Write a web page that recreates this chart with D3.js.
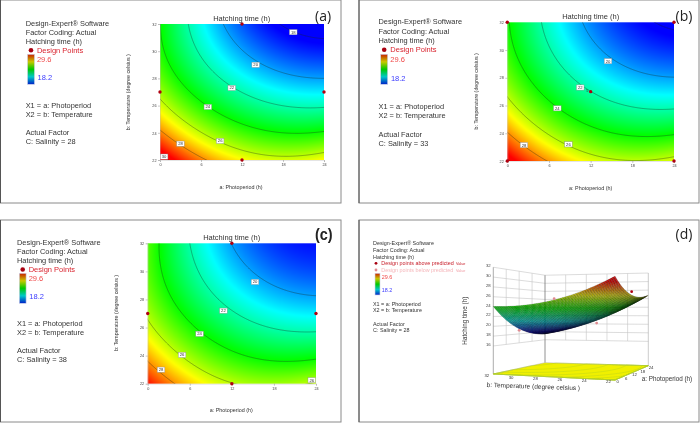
<!DOCTYPE html>
<html><head><meta charset="utf-8">
<script src="https://cdn.jsdelivr.net/npm/d3@7"></script>
<style>
html,body{margin:0;padding:0;background:#fff}
svg{display:block;filter:blur(0.3px)}
text{font-family:"Liberation Sans",Arial,sans-serif}
</style></head><body>
<svg id="chart" width="700" height="423"></svg>
<script>
// ---- data ----
const photoperiodTicks = [0, 6, 12, 18, 24];
const temperatureTicks = [22, 24, 26, 28, 30, 32];
const heightTicks = [16, 18, 20, 22, 24, 26, 28, 30, 32];
const gridPhotoperiod = [0, 4, 8, 12, 16, 20, 24];
const gridTemperature = [22, 24, 26, 28, 30, 32];
const contourLevels = [18, 20, 22, 24, 26, 28, 30];

// rows = temperature, columns = photoperiod; hatching time (h)
const surfaceA = [
  [30.6, 28.9, 27.6, 26.8, 26.45, 26.4, 26.75],
  [28.1, 26.9, 25.5, 24.6, 24.05, 23.9, 24.15],
  [26.35, 25.0, 23.7, 22.9, 22.2, 21.85, 21.95],
  [25.1, 23.4, 22.15, 21.3, 20.6, 20.1, 20.0],
  [24.3, 22.5, 21.1, 20.0, 19.2, 18.7, 18.5],
  [24.0, 22.2, 20.4, 19.2, 18.3, 17.7, 17.5]];
const surfaceB = [
  [30.2, 28.5, 27.3, 26.6, 26.1, 26.05, 26.4],
  [28.0, 26.7, 25.4, 24.5, 23.95, 23.8, 23.95],
  [26.4, 24.9, 23.65, 22.7, 22.0, 21.6, 21.8],
  [25.3, 23.6, 22.4, 21.45, 20.7, 20.15, 20.0],
  [24.4, 22.8, 21.4, 20.4, 19.6, 19.0, 18.8],
  [24.2, 22.3, 20.9, 19.7, 18.8, 18.0, 17.8]];
const surfaceC = [
  [29.4, 28.05, 26.95, 26.0, 25.5, 25.7, 26.2],
  [27.6, 26.2, 25.2, 24.3, 23.75, 23.6, 23.8],
  [26.25, 24.95, 23.75, 22.8, 22.2, 21.75, 21.8],
  [25.4, 23.8, 22.45, 21.5, 20.8, 20.25, 20.05],
  [24.95, 23.2, 21.7, 20.65, 19.85, 19.35, 19.15],
  [24.8, 22.9, 21.2, 20.0, 19.1, 18.5, 18.35]];

const labelsA = [[19.5,31.4,"18"],[14,29,"20"],[10.5,27.3,"22"],[7,25.9,"24"],[8.8,23.4,"26"],[3,23.2,"28"],[0.6,22.25,"30"]];
const labelsB = [[14.5,29.2,"20"],[10.5,27.3,"22"],[7.2,25.8,"24"],[8.8,23.2,"26"],[2.4,23.15,"28"]];
const labelsC = [[15.3,29.25,"20"],[10.8,27.2,"22"],[7.4,25.55,"24"],[4.9,24.05,"26"],[1.9,23,"28"],[23.4,22.25,"26"]];

const pointsA = [[12,32],[0,27],[24,27],[12,22]];
const pointsB = [[0,32],[24,32],[12,27],[0,22],[24,22]];
const pointsC = [[12,32],[0,27],[24,27],[12,22]];
// photoperiod, temperature, height, above prediction?
const points3D = [[12,22,27.6,true],[0,27,25.9,false],[24,27,20.2,false],[12,32,18.8,false]];

const colorStops = [18.2, 21.05, 23.9, 26.75, 29.6];
const colorRange = ["#0000ff", "#00ffff", "#00ff00", "#ffff00", "#ff0000"];
const legendRange = ["#0020c8", "#00c8c8", "#00c800", "#c8c800", "#c82000"];

// ---- helpers ----
const svg = d3.select("#chart");
const defs = svg.append("defs");
const color = d3.scaleLinear().domain(colorStops).range(colorRange).clamp(true);
const TEXT = "#333";

// smooth response surface through the values (least squares, biquadratic)
function sampler(grid) {
  const basis = (p, T) => {
    const a = (p - 12) / 12, b = (T - 27) / 5;
    return [1, a, b, a * a, a * b, b * b, a * a * b, a * b * b, a * a * b * b];
  };
  const m = 9, A = d3.range(m).map(() => new Array(m + 1).fill(0));
  grid.forEach((row, j) => row.forEach((z, i) => {
    const v = basis(gridPhotoperiod[i], gridTemperature[j]);
    for (let r = 0; r < m; r++) { for (let c = 0; c < m; c++) A[r][c] += v[r] * v[c]; A[r][m] += v[r] * z; }
  }));
  for (let c = 0; c < m; c++) {
    let piv = c;
    for (let r = c + 1; r < m; r++) if (Math.abs(A[r][c]) > Math.abs(A[piv][c])) piv = r;
    [A[c], A[piv]] = [A[piv], A[c]];
    for (let r = 0; r < m; r++) if (r !== c) {
      const k = A[r][c] / A[c][c];
      for (let q = c; q <= m; q++) A[r][q] -= k * A[c][q];
    }
  }
  const w = A.map((row, i) => row[m] / row[i]);
  return (p, T) => d3.sum(basis(p, T), (v, i) => v * w[i]);
}

function textLines(g, lines, opts) {
  lines.forEach(l => g.append("text").attr("x", l[0]).attr("y", l[1])
    .attr("font-size", l[3] || opts.size).attr("fill", l[4] || TEXT).attr("dominant-baseline", "central").text(l[2]));
}
function legendBar(g, id, x, y, w, h) {
  const lg = defs.append("linearGradient").attr("id", id).attr("x1", 0).attr("x2", 0).attr("y1", 1).attr("y2", 0);
  colorStops.forEach((s, i) => lg.append("stop").attr("offset", i / (colorStops.length - 1)).attr("stop-color", legendRange[i]));
  g.append("rect").attr("x", x).attr("y", y).attr("width", w).attr("height", h).attr("fill", `url(#${id})`).attr("stroke", "#cfd3e8").attr("stroke-width", 0.6);
}
function frame(x0, y0, x1, y1) {
  svg.append("rect").attr("x", x0).attr("y", y0).attr("width", x1 - x0).attr("height", y1 - y0)
    .attr("fill", "none").attr("stroke", "#8a8a8a").attr("stroke-width", 1);
  svg.append("line").attr("x1", x0).attr("x2", x0).attr("y1", y0).attr("y2", y1).attr("stroke", "#555").attr("stroke-width", 1);
}

function contourPanel(o) {
  const g = svg.append("g");
  const x = d3.scaleLinear().domain([0, 24]).range([o.x0, o.x1]);
  const y = d3.scaleLinear().domain([22, 32]).range([o.y1, o.y0]);
  const f = sampler(o.grid);
  const W = Math.round(o.x1 - o.x0) * 2, H = Math.round(o.y1 - o.y0) * 2;
  // colour field
  const cv = document.createElement("canvas"); cv.width = W; cv.height = H;
  const ctx = cv.getContext("2d"), img = ctx.createImageData(W, H);
  for (let j = 0; j < H; j++) for (let i = 0; i < W; i++) {
    const p = (i + .5) / W * 24, T = 32 - (j + .5) / H * 10;
    const c = d3.rgb(color(f(p, T))), k = (j * W + i) * 4;
    img.data[k] = c.r; img.data[k + 1] = c.g; img.data[k + 2] = c.b; img.data[k + 3] = 255;
  }
  ctx.putImageData(img, 0, 0);
  g.append("image").attr("x", o.x0).attr("y", o.y0).attr("width", o.x1 - o.x0).attr("height", o.y1 - o.y0)
    .attr("preserveAspectRatio", "none").attr("href", cv.toDataURL());
  // contours, computed slightly past the plot so the boundary rings are clipped away
  const nx = 200, ny = 150, pad = 1.5;
  const px = i => -pad + (i / (nx - 1)) * (24 + 2 * pad), py = j => 22 - pad * .5 + (j / (ny - 1)) * (10 + pad);
  const values = new Float64Array(nx * ny);
  for (let j = 0; j < ny; j++) for (let i = 0; i < nx; i++) values[j * nx + i] = f(px(i), py(j));
  const clipId = "clip" + o.id;
  defs.append("clipPath").attr("id", clipId).append("rect").attr("x", o.x0).attr("y", o.y0).attr("width", o.x1 - o.x0).attr("height", o.y1 - o.y0);
  const path = d3.geoPath(d3.geoTransform({ point(a, b) { this.stream.point(x(px(a - .5)), y(py(b - .5))); } }));
  g.append("g").attr("clip-path", `url(#${clipId})`).selectAll("path")
    .data(d3.contours().size([nx, ny]).thresholds(contourLevels)(Array.from(values)))
    .join("path").attr("d", path).attr("fill", "none").attr("stroke", "#1c2a20").attr("stroke-width", 0.36);
  // axes
  const ax = g.append("g").attr("transform", `translate(0,${o.y1})`).call(d3.axisBottom(x).tickValues(photoperiodTicks).tickSize(2).tickPadding(1.5));
  const ay = g.append("g").attr("transform", `translate(${o.x0},0)`).call(d3.axisLeft(y).tickValues(temperatureTicks).tickSize(2).tickPadding(1.5));
  [ax, ay].forEach(a => {
    a.selectAll("text").attr("font-size", 3.8).attr("fill", "#444").attr("font-family", '"Liberation Sans",Arial,sans-serif');
    a.selectAll("line").attr("stroke", "#777").attr("stroke-width", 0.4);
    a.select(".domain").attr("stroke", "#bbb").attr("stroke-width", 0.4);
  });
  // contour labels
  const lab = g.selectAll(".cl").data(o.labels).join("g").attr("transform", d => `translate(${x(d[0])},${y(d[1])})`);
  lab.append("rect").attr("x", -3.8).attr("y", -2.6).attr("width", 7.6).attr("height", 5.2).attr("fill", "#fff").attr("stroke", "#8c8c8c").attr("stroke-width", .4);
  lab.append("text").attr("text-anchor", "middle").attr("dominant-baseline", "central").attr("font-size", 4.2).attr("fill", "#333").text(d => d[2]);
  // design points
  g.selectAll(".dp").data(o.points).join("circle").attr("cx", d => x(d[0])).attr("cy", d => y(d[1])).attr("r", 1.7).attr("fill", "#b00010");
  // titles
  g.append("text").attr("x", o.titleX).attr("y", o.titleY).attr("text-anchor", "middle").attr("dominant-baseline", "central").attr("font-size", 7.5).attr("fill", TEXT).text("Hatching time (h)");
  g.append("text").attr("x", o.xLabX).attr("y", o.xLabY).attr("text-anchor", "middle").attr("dominant-baseline", "central").attr("font-size", 5.4).attr("fill", TEXT).text("a: Photoperiod (h)");
  g.append("text").attr("transform", `translate(${o.yLabX},${o.yLabY}) rotate(-90)`).attr("text-anchor", "middle").attr("dominant-baseline", "central").attr("font-size", 5.3).attr("fill", TEXT).text("b: Temperature (degree celsius )");
  // side text
  const t = o.text;
  textLines(g, [
    [t.x, t.y[0], "Design-Expert\u00AE Software"], [t.x, t.y[1], "Factor Coding: Actual"], [t.x, t.y[2], "Hatching time (h)"],
    [t.tx, t.y[3], "Design Points", 7.5, "#d9232e"],
    [t.tx, t.y[4], "29.6", 7.5, "#f04848"], [t.tx + .6, t.y[5], "18.2", 7.5, "#3a3aff"],
    [t.x, t.y[6], "X1 = a: Photoperiod"], [t.x, t.y[7], "X2 = b: Temperature"],
    [t.x, t.y[8], "Actual Factor"], [t.x, t.y[9], "C: Salinity = " + o.salinity]
  ], { size: 7.4 });
  g.append("circle").attr("cx", t.bx + t.bw / 2).attr("cy", t.y[3]).attr("r", 2.3).attr("fill", "#a80010");
  legendBar(g, "lg" + o.id, t.bx, t.by, t.bw, 30);
}

contourPanel({ id: "a", grid: surfaceA, labels: labelsA, points: pointsA, salinity: 28,
  x0: 160, x1: 324, y0: 24, y1: 160, titleX: 241.7, titleY: 18.3, xLabX: 241, xLabY: 187, yLabX: 128.3, yLabY: 92.2,
  text: { x: 25.7, tx: 36.9, bx: 27.5, bw: 7, by: 54.3, y: [23.3, 32.3, 41.3, 50.3, 59.3, 77.3, 105, 114, 132, 141] } });
contourPanel({ id: "b", grid: surfaceB, labels: labelsB, points: pointsB, salinity: 33,
  x0: 507.3, x1: 674, y0: 22.3, y1: 161, titleX: 590.7, titleY: 16.3, xLabX: 590.7, xLabY: 187.7, yLabX: 475.7, yLabY: 91.3,
  text: { x: 378.5, tx: 390.3, bx: 380.7, bw: 7, by: 54.3, y: [21.7, 31, 40.5, 49.7, 59.3, 78, 106, 115.5, 134, 143.5] } });
contourPanel({ id: "c", grid: surfaceC, labels: labelsC, points: pointsC, salinity: 38,
  x0: 147.7, x1: 316, y0: 243.3, y1: 383.7, titleX: 231.7, titleY: 237.7, xLabX: 231.3, xLabY: 410.3, yLabX: 115.7, yLabY: 313,
  text: { x: 17, tx: 28.7, bx: 19.3, bw: 6.8, by: 273.3, y: [242.3, 251.3, 260.5, 269.5, 278.5, 296.5, 323.5, 332.5, 350.5, 359.5] } });
svg.append("text").attr("x", 587.3).attr("y", 91.3).attr("font-size", 3.8).attr("fill", "#333").attr("text-anchor", "middle").attr("dominant-baseline", "central").text("5");

// ---- panel d: 3D surface ----
(function () {
  const g = svg.append("g");
  const floorZ = 10.3;
  const cA = { x: 493.3, y: 374, k: 4.92 }, cB = { x: 545, y: 362.7, k: 4.03 }, cC = { x: 648.3, y: 365.7, k: 4.27 }, cD = { x: 615, y: 380, k: 5.12 };
  const u = d3.scaleLinear().domain([0, 24]).range([0, 1]);
  const v = d3.scaleLinear().domain([32, 22]).range([0, 1]);
  function proj(P, T, z) {
    const a = u(P), b = v(T);
    const mix = key => (1 - b) * ((1 - a) * cA[key] + a * cB[key]) + b * ((1 - a) * cD[key] + a * cC[key]);
    return [mix("x"), mix("y") - (z - floorZ) * mix("k")];
  }
  const grey = "#c4c4c4";
  const seg = (p, q, c, w) => g.append("line").attr("x1", p[0]).attr("y1", p[1]).attr("x2", q[0]).attr("y2", q[1]).attr("stroke", c).attr("stroke-width", w);
  // walls
  heightTicks.forEach(z => {
    seg(proj(0, 32, z), proj(24, 32, z), grey, .6);
    seg(proj(24, 32, z), proj(24, 22, z), grey, .6);
    const p = proj(0, 32, z);
    g.append("text").attr("x", p[0] - 5).attr("y", p[1] - 1.5).attr("text-anchor", "middle").attr("dominant-baseline", "central").attr("font-size", 4.3).attr("fill", "#444").text(z);
  });
  [6, 12, 18].forEach(P => seg(proj(P, 32, 32), proj(P, 32, 16), grey, .6));
  [24, 26, 28, 30].forEach(T => seg(proj(24, T, 32), proj(24, T, 16), grey, .6));
  seg(proj(0, 32, floorZ), proj(0, 32, 32), "#888", .7);
  seg(proj(24, 32, floorZ), proj(24, 32, 32), "#777", .8);
  seg(proj(24, 22, floorZ), proj(24, 22, 32), "#aaa", .6);
  // floor
  const floor = [[0, 32], [24, 32], [24, 22], [0, 22]].map(c => proj(c[0], c[1], floorZ));
  g.append("path").attr("d", d3.line()(floor) + "Z").attr("fill", "#f0f000").attr("stroke", "#999").attr("stroke-width", .4);
  const f = sampler(surfaceA);
  const nx = 60, ny = 60;
  const ppx = i => (i / (nx - 1)) * 24, ppy = j => 22 + (j / (ny - 1)) * 10;
  const vals = [];
  for (let j = 0; j < ny; j++) for (let i = 0; i < nx; i++) vals.push(f(ppx(i), ppy(j)));
  const fp = d3.geoPath(d3.geoTransform({ point(a, b) {
    const q = proj(ppx(Math.max(0, Math.min(nx - 1, a - .5))), ppy(Math.max(0, Math.min(ny - 1, b - .5))), floorZ);
    this.stream.point(q[0], q[1]);
  } }));
  g.append("g").selectAll("path").data(d3.contours().size([nx, ny]).thresholds(contourLevels)(vals))
    .join("path").attr("d", fp).attr("fill", "none").attr("stroke", "#b0d020").attr("stroke-width", .4);
  // floor tick labels
  temperatureTicks.forEach(T => {
    const p = proj(0, T, floorZ);
    g.append("text").attr("x", p[0] - 6.5).attr("y", p[1] + 1.8).attr("text-anchor", "middle").attr("dominant-baseline", "central").attr("font-size", 4.3).attr("fill", "#333").text(T);
  });
  photoperiodTicks.forEach(P => {
    const p = proj(P, 22, floorZ);
    g.append("text").attr("x", p[0] + 2.8).attr("y", p[1] + 1.8).attr("text-anchor", "middle").attr("dominant-baseline", "central").attr("font-size", 4.3).attr("fill", "#333").text(P);
  });
  // mesh (painted far to near)
  const n = 56, line = d3.line();
  const quads = [];
  for (let i = n - 1; i >= 0; i--) for (let j = n - 1; j >= 0; j--) {
    const p0 = i / n * 24, p1 = (i + 1) / n * 24, t0 = 22 + j / n * 10, t1 = 22 + (j + 1) / n * 10;
    quads.push({ c: f((p0 + p1) / 2, (t0 + t1) / 2),
      pts: [[p0, t0], [p1, t0], [p1, t1], [p0, t1]].map(q => proj(q[0], q[1], f(q[0], q[1]))) });
  }
  g.append("g").selectAll("path").data(quads).join("path")
    .attr("d", d => line(d.pts) + "Z").attr("fill", d => d3.rgb(color(d.c)).darker(0.5)).attr("stroke", "#000").attr("stroke-width", .32).attr("stroke-opacity", .55);
  // design points
  g.selectAll(".p3").data(points3D).join("circle").attr("cx", d => proj(d[0], d[1], d[2])[0]).attr("cy", d => proj(d[0], d[1], d[2])[1])
    .attr("r", 1.4).attr("fill", d => d[3] ? "#b00010" : "#e08a90");
  // labels
  g.append("text").attr("transform", "translate(486.7,384.5) rotate(2)").attr("font-size", 6.5).attr("fill", TEXT).attr("dominant-baseline", "central").text("b: Temperature (degree celsius )");
  g.append("text").attr("x", 641.7).attr("y", 378).attr("font-size", 6.3).attr("fill", TEXT).attr("dominant-baseline", "central").text("a: Photoperiod (h)");
  g.append("text").attr("transform", "translate(464.3,320.7) rotate(-90)").attr("text-anchor", "middle").attr("dominant-baseline", "central").attr("font-size", 6.3).attr("fill", TEXT).text("Hatching time (h)");
  textLines(g, [
    [373, 243.3, "Design-Expert\u00AE Software"], [373, 250, "Factor Coding: Actual"], [373, 256.7, "Hatching time (h)"],
    [381.3, 263.3, "Design points above predicted", 5.4, "#c8202c"], [456, 264, "Value", 3.8, "#c8202c"],
    [381.3, 270, "Design points below predicted", 5.4, "#f5b8bc"], [456, 271, "Value", 3.8, "#f0a0a8"],
    [381.7, 276.7, "29.6", 5.4, "#f04848"], [381.7, 290, "18.2", 5.4, "#3a3aff"],
    [373, 303.7, "X1 = a: Photoperiod"], [373, 310.3, "X2 = b: Temperature"],
    [373, 323.7, "Actual Factor"], [373, 330.3, "C: Salinity = 28"]
  ], { size: 5.4 });
  g.append("circle").attr("cx", 376).attr("cy", 263.3).attr("r", 1.4).attr("fill", "#a80010");
  g.append("circle").attr("cx", 376).attr("cy", 270).attr("r", 1.4).attr("fill", "#e08a90");
  legendBar(g, "lgd", 375, 273.3, 5, 21.7);
})();

// ---- frames and panel letters ----
frame(0.5, 0, 341, 203);
frame(359, 0, 699, 203);
frame(0.5, 220, 341, 422);
frame(359, 220, 699, 422);
const letters = [[315, 20.5, "(a)", false], [675.5, 20.5, "(b)", false], [315, 240, "(c)", true], [675.5, 239, "(d)", false]];
letters.forEach(l => svg.append("text").attr("transform", `translate(${l[0]},${l[1]}) scale(${l[3] ? 0.85 : 1},1)`)
  .style("font-family", l[3] ? '"Liberation Sans",sans-serif' : '"Open Sans",sans-serif')
  .attr("font-weight", l[3] ? 700 : 400).attr("font-size", l[3] ? 17 : 14).attr("fill", "#222").text(l[2]));
</script>
</body></html>
